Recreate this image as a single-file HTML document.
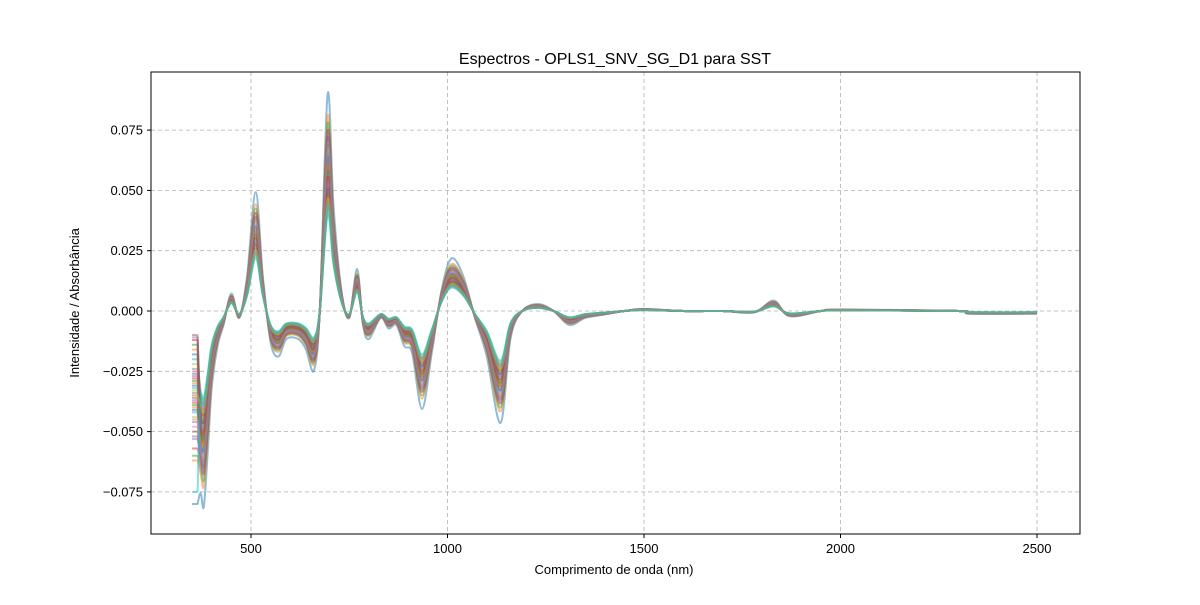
<!DOCTYPE html>
<html><head><meta charset="utf-8"><style>
body{margin:0;background:#fff}
svg text{font-family:"Liberation Sans","DejaVu Sans",sans-serif;fill:#000}
</style></head><body>
<svg id="chart" width="1200" height="600" xmlns="http://www.w3.org/2000/svg">
<rect width="1200" height="600" fill="#fff"/>
<text x="615" y="64" font-size="16" text-anchor="middle">Espectros - OPLS1_SNV_SG_D1 para SST</text>
<g id="grid"></g>
<g id="series"></g>
<rect x="151" y="72" width="929" height="462" fill="none" stroke="#000" stroke-width="1"/>
<g id="axes"></g>
<text x="614" y="574" font-size="13" text-anchor="middle">Comprimento de onda (nm)</text>
<text transform="translate(79,303) rotate(-90)" font-size="13" text-anchor="middle">Intensidade / Absorbância</text>
</svg>
<script>
const wavelengths=[372,380,390,400,415,430,450,470,490,512,530,550,570,590,620,640,660,675,695,710,730,750,770,785,800,830,850,870,890,910,935,960,985,1010,1040,1070,1100,1135,1160,1190,1230,1270,1310,1350,1400,1450,1500,1600,1700,1780,1830,1870,1950,2000,2300,2330,2500];
const meanSpectrum=[-0.052,-0.056,-0.04,-0.022,-0.01,-0.004,0.005,-0.002,0.01,0.034,0.01,-0.009,-0.013,-0.008,-0.008,-0.011,-0.017,0.0,0.062,0.03,0.006,-0.002,0.012,-0.004,-0.008,-0.002,-0.005,-0.004,-0.01,-0.012,-0.028,-0.012,0.006,0.015,0.01,-0.002,-0.013,-0.032,-0.008,0.0,0.002,0.0,-0.004,-0.002,-0.001,0.0,0.0006,0.0,0.0,-0.0004,0.003,-0.0015,0.0,0.0004,0.0,-0.0008,-0.0008];
const seriesScale=[1.45,1.3,1.25,1.2,1.18,1.15,1.12,1.1,1.08,1.05,1.03,1.0,0.98,0.96,0.94,0.92,0.9,0.88,0.86,0.84,0.82,0.8,0.78,0.76,0.74,0.72,0.7,0.68,0.66,0.64,1.02,0.97,0.93,0.89,0.85,0.81,1.07,1.13,0.75,0.7];
const seriesStart=[-0.08,-0.062,-0.06,-0.057,-0.053,-0.05,-0.048,-0.046,-0.044,-0.042,-0.041,-0.04,-0.039,-0.038,-0.037,-0.036,-0.035,-0.034,-0.033,-0.032,-0.031,-0.03,-0.029,-0.028,-0.027,-0.026,-0.025,-0.024,-0.022,-0.02,-0.018,-0.016,-0.014,-0.012,-0.011,-0.01,-0.045,-0.052,-0.035,-0.075];
const xTicks=[500,1000,1500,2000,2500];
const yTicks=[-0.075,-0.05,-0.025,0,0.025,0.05,0.075];
const yLabels=["−0.075","−0.050","−0.025","0.000","0.025","0.050","0.075"];
const colors=["#1f77b4","#ff7f0e","#2ca02c","#d62728","#9467bd","#8c564b","#e377c2","#7f7f7f","#bcbd22","#17becf"];
const X=v=>251+(v-500)*0.393, Y=v=>311-v*2412;
const NS="http://www.w3.org/2000/svg";
const grid=document.getElementById('grid'), axes=document.getElementById('axes'), ser=document.getElementById('series');
function mk(tag,attrs,parent){const e=document.createElementNS(NS,tag);for(const k in attrs)e.setAttribute(k,attrs[k]);parent.appendChild(e);return e;}
xTicks.forEach(t=>{
  const g=mk('line',{x1:X(t),x2:X(t),y1:72,y2:534,stroke:'#b0b0b0','stroke-dasharray':'4,3','stroke-width':0.8},grid);
  
  
  const tk=mk('line',{x1:X(t),x2:X(t),y1:534,y2:538,stroke:'#000'},axes);
  
  
  const tx=mk('text',{x:X(t),y:553,'font-size':13,'text-anchor':'middle'},axes);tx.textContent=t;
  
  
});
yTicks.forEach((t,i)=>{
  const g=mk('line',{x1:151,x2:1080,y1:Y(t),y2:Y(t),stroke:'#b0b0b0','stroke-dasharray':'4,3','stroke-width':0.8},grid);
  
  
  const tk=mk('line',{x1:147,x2:151,y1:Y(t),y2:Y(t),stroke:'#000'},axes);
  
  
  const tx=mk('text',{x:143,y:Y(t)+4.5,'font-size':13,'text-anchor':'end'},axes);tx.textContent=yLabels[i];
  
  
});
function smooth(pts){
  let d='M'+pts[0][0].toFixed(1)+','+pts[0][1].toFixed(1);
  for(let i=0;i<pts.length-1;i++){
    const p0=pts[Math.max(0,i-1)],p1=pts[i],p2=pts[i+1],p3=pts[Math.min(pts.length-1,i+2)];
    const c1=[p1[0]+(p2[0]-p0[0])/6,p1[1]+(p2[1]-p0[1])/6];
    const c2=[p2[0]-(p3[0]-p1[0])/6,p2[1]-(p3[1]-p1[1])/6];
    d+=' C'+c1[0].toFixed(1)+','+c1[1].toFixed(1)+' '+c2[0].toFixed(1)+','+c2[1].toFixed(1)+' '+p2[0].toFixed(1)+','+p2[1].toFixed(1);
  }
  return d;
}
seriesScale.forEach((s,i)=>{
  const pts=[[X(350),Y(seriesStart[i])],[X(364),Y(seriesStart[i])]];
  wavelengths.forEach((w,j)=>pts.push([X(w),Y(meanSpectrum[j]*s)]));
  const d='M'+pts[0][0]+','+pts[0][1]+' L'+pts[1][0]+','+pts[1][1]+' '+smooth(pts.slice(1)).replace(/^M[^ ]+/,'');
  const p=mk('path',{d:d,fill:'none',stroke:colors[i%10],'stroke-opacity':0.5,'stroke-width':2,'stroke-linejoin':'round'},ser);
  
  
});
</script>
</body></html>
